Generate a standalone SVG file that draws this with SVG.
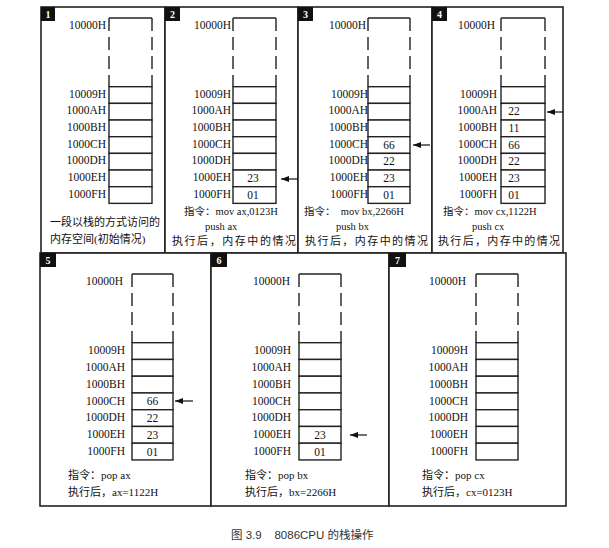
<svg xmlns="http://www.w3.org/2000/svg" width="609" height="548" viewBox="0 0 609 548">
<defs>
<style>
.frame{fill:#fff;stroke:#222;stroke-width:1.6}
.tag{fill:#111}
.tagt{fill:#fff;font-family:"Liberation Serif",serif;font-size:10px;font-weight:bold;text-anchor:middle}
.cell{fill:#fff;stroke:#222;stroke-width:1.4}
.top{stroke:#222;stroke-width:1.4;fill:none}
.dash{stroke:#222;stroke-width:1.4;fill:none;stroke-dasharray:13 6}
.lbl{font-family:"Liberation Serif",serif;font-size:11.5px;fill:#111;text-anchor:end}
.val{font-family:"Liberation Serif",serif;font-size:11.5px;fill:#111;text-anchor:middle}
.txt{font-family:"Liberation Serif","Noto Sans CJK SC",serif;font-size:11px;fill:#111}
.ins{font-family:"Liberation Serif","Noto Sans CJK SC",serif;font-size:10.5px;fill:#111}
.cap{font-family:"Liberation Sans","Noto Sans CJK SC",sans-serif;font-size:11.5px;fill:#333}
.arr{stroke:#111;stroke-width:1.2;fill:none;marker-end:url(#ah)}
</style>
<marker id="ah" markerUnits="userSpaceOnUse" markerWidth="8" markerHeight="6" refX="8" refY="3" orient="auto">
<path d="M0,0 L8,3 L0,6 z" fill="#111"/>
</marker>
</defs>

<g id="panel1">
<rect class="frame" x="41" y="7" width="124" height="246"/>
<rect class="tag" x="41" y="7" width="14" height="14"/><text class="tagt" x="48" y="18">1</text>
<line class="top" x1="109" y1="18" x2="152" y2="18"/>
<line class="dash" x1="109" y1="18" x2="109" y2="87"/>
<line class="dash" x1="152" y1="18" x2="152" y2="87"/>
<rect class="cell" x="109" y="86.7" width="43" height="16.67"/>
<rect class="cell" x="109" y="103.37" width="43" height="16.67"/>
<rect class="cell" x="109" y="120.03" width="43" height="16.67"/>
<rect class="cell" x="109" y="136.7" width="43" height="16.67"/>
<rect class="cell" x="109" y="153.37" width="43" height="16.67"/>
<rect class="cell" x="109" y="170.03" width="43" height="16.67"/>
<rect class="cell" x="109" y="186.7" width="43" height="16.67"/>
<text class="lbl" x="106" y="29">10000H</text>
<text class="lbl" x="106" y="97.7">10009H</text>
<text class="lbl" x="106" y="114.4">1000AH</text>
<text class="lbl" x="106" y="131">1000BH</text>
<text class="lbl" x="106" y="147.7">1000CH</text>
<text class="lbl" x="106" y="164.4">1000DH</text>
<text class="lbl" x="106" y="181">1000EH</text>
<text class="lbl" x="106" y="197.7">1000FH</text>
<text class="txt" x="50" y="226">一段以栈的方式访问的</text>
<text class="txt" x="50" y="243">内存空间(初始情况)</text>
</g>

<g id="panel2">
<rect class="frame" x="165" y="7" width="133" height="246"/>
<rect class="tag" x="165" y="7" width="15" height="14"/><text class="tagt" x="172.5" y="18">2</text>
<line class="top" x1="233" y1="18" x2="276" y2="18"/>
<line class="dash" x1="233" y1="18" x2="233" y2="87"/>
<line class="dash" x1="276" y1="18" x2="276" y2="87"/>
<rect class="cell" x="233" y="86.7" width="43" height="16.67"/>
<rect class="cell" x="233" y="103.37" width="43" height="16.67"/>
<rect class="cell" x="233" y="120.03" width="43" height="16.67"/>
<rect class="cell" x="233" y="136.7" width="43" height="16.67"/>
<rect class="cell" x="233" y="153.37" width="43" height="16.67"/>
<rect class="cell" x="233" y="170.03" width="43" height="16.67"/>
<rect class="cell" x="233" y="186.7" width="43" height="16.67"/>
<text class="lbl" x="231" y="29">10000H</text>
<text class="lbl" x="231" y="97.7">10009H</text>
<text class="lbl" x="231" y="114.4">1000AH</text>
<text class="lbl" x="231" y="131">1000BH</text>
<text class="lbl" x="231" y="147.7">1000CH</text>
<text class="lbl" x="231" y="164.4">1000DH</text>
<text class="lbl" x="231" y="181">1000EH</text>
<text class="lbl" x="231" y="197.7">1000FH</text>
<text class="val" x="253" y="182">23</text>
<text class="val" x="253" y="198.7">01</text>
<text class="ins" x="184" y="215">指令：mov ax,0123H</text>
<text class="ins" x="205" y="230">push ax</text>
<text class="txt" x="172" y="245" textLength="124" lengthAdjust="spacing">执行后，内存中的情况</text>
</g>

<g id="panel3">
<rect class="frame" x="298" y="7" width="134" height="246"/>
<rect class="tag" x="298" y="7" width="15" height="14"/><text class="tagt" x="305.5" y="18">3</text>
<line class="top" x1="368" y1="18" x2="410" y2="18"/>
<line class="dash" x1="368" y1="18" x2="368" y2="87"/>
<line class="dash" x1="410" y1="18" x2="410" y2="87"/>
<rect class="cell" x="368" y="86.7" width="42" height="16.67"/>
<rect class="cell" x="368" y="103.37" width="42" height="16.67"/>
<rect class="cell" x="368" y="120.03" width="42" height="16.67"/>
<rect class="cell" x="368" y="136.7" width="42" height="16.67"/>
<rect class="cell" x="368" y="153.37" width="42" height="16.67"/>
<rect class="cell" x="368" y="170.03" width="42" height="16.67"/>
<rect class="cell" x="368" y="186.7" width="42" height="16.67"/>
<text class="lbl" x="366" y="29">10000H</text>
<text class="lbl" x="368" y="97.7">10009H</text>
<text class="lbl" x="368" y="114.4">1000AH</text>
<text class="lbl" x="368" y="131">1000BH</text>
<text class="lbl" x="368" y="147.7">1000CH</text>
<text class="lbl" x="368" y="164.4">1000DH</text>
<text class="lbl" x="368" y="181">1000EH</text>
<text class="lbl" x="368" y="197.7">1000FH</text>
<text class="val" x="389" y="148.7">66</text>
<text class="val" x="389" y="165.4">22</text>
<text class="val" x="389" y="182">23</text>
<text class="val" x="389" y="198.7">01</text>
<text class="ins" x="304" y="215" xml:space="preserve">指令：  mov bx,2266H</text>
<text class="ins" x="336" y="230">push bx</text>
<text class="txt" x="305" y="245" textLength="123" lengthAdjust="spacing">执行后，内存中的情况</text>
</g>

<g id="panel4">
<rect class="frame" x="432" y="7" width="131" height="246"/>
<rect class="tag" x="432" y="7" width="15" height="14"/><text class="tagt" x="439.5" y="18">4</text>
<line class="top" x1="501" y1="18" x2="545" y2="18"/>
<line class="dash" x1="501" y1="18" x2="501" y2="87"/>
<line class="dash" x1="545" y1="18" x2="545" y2="87"/>
<rect class="cell" x="501" y="86.7" width="44" height="16.67"/>
<rect class="cell" x="501" y="103.37" width="44" height="16.67"/>
<rect class="cell" x="501" y="120.03" width="44" height="16.67"/>
<rect class="cell" x="501" y="136.7" width="44" height="16.67"/>
<rect class="cell" x="501" y="153.37" width="44" height="16.67"/>
<rect class="cell" x="501" y="170.03" width="44" height="16.67"/>
<rect class="cell" x="501" y="186.7" width="44" height="16.67"/>
<text class="lbl" x="495" y="29">10000H</text>
<text class="lbl" x="497" y="97.7">10009H</text>
<text class="lbl" x="497" y="114.4">1000AH</text>
<text class="lbl" x="497" y="131">1000BH</text>
<text class="lbl" x="497" y="147.7">1000CH</text>
<text class="lbl" x="497" y="164.4">1000DH</text>
<text class="lbl" x="497" y="181">1000EH</text>
<text class="lbl" x="497" y="197.7">1000FH</text>
<text class="val" x="514" y="115.4">22</text>
<text class="val" x="514" y="132">11</text>
<text class="val" x="514" y="148.7">66</text>
<text class="val" x="514" y="165.4">22</text>
<text class="val" x="514" y="182">23</text>
<text class="val" x="514" y="198.7">01</text>
<text class="ins" x="443" y="215">指令：mov cx,1122H</text>
<text class="ins" x="472" y="230">push cx</text>
<text class="txt" x="438" y="245" textLength="122" lengthAdjust="spacing">执行后，内存中的情况</text>
</g>

<g id="panel5">
<rect class="frame" x="40" y="253" width="171" height="253"/>
<rect class="tag" x="40" y="253" width="16" height="14"/><text class="tagt" x="48" y="264">5</text>
<line class="top" x1="132" y1="274" x2="173" y2="274"/>
<line class="dash" x1="132" y1="274" x2="132" y2="343"/>
<line class="dash" x1="173" y1="274" x2="173" y2="343"/>
<rect class="cell" x="132" y="342.7" width="41" height="16.75"/>
<rect class="cell" x="132" y="359.45" width="41" height="16.75"/>
<rect class="cell" x="132" y="376.2" width="41" height="16.75"/>
<rect class="cell" x="132" y="392.95" width="41" height="16.75"/>
<rect class="cell" x="132" y="409.7" width="41" height="16.75"/>
<rect class="cell" x="132" y="426.45" width="41" height="16.75"/>
<rect class="cell" x="132" y="443.2" width="41" height="16.75"/>
<text class="lbl" x="123" y="285">10000H</text>
<text class="lbl" x="125" y="354.2">10009H</text>
<text class="lbl" x="125" y="371">1000AH</text>
<text class="lbl" x="125" y="387.7">1000BH</text>
<text class="lbl" x="125" y="404.5">1000CH</text>
<text class="lbl" x="125" y="421.2">1000DH</text>
<text class="lbl" x="125" y="438">1000EH</text>
<text class="lbl" x="125" y="454.7">1000FH</text>
<text class="val" x="152.5" y="405.2">66</text>
<text class="val" x="152.5" y="422">22</text>
<text class="val" x="152.5" y="438.7">23</text>
<text class="val" x="152.5" y="455.5">01</text>
<text class="txt" x="68" y="479">指令：pop ax</text>
<text class="txt" x="68" y="496">执行后，ax=1122H</text>
</g>

<g id="panel6">
<rect class="frame" x="211" y="253" width="178" height="253"/>
<rect class="tag" x="211" y="253" width="16" height="14"/><text class="tagt" x="219" y="264">6</text>
<line class="top" x1="299" y1="274" x2="341" y2="274"/>
<line class="dash" x1="299" y1="274" x2="299" y2="343"/>
<line class="dash" x1="341" y1="274" x2="341" y2="343"/>
<rect class="cell" x="299" y="342.7" width="42" height="16.75"/>
<rect class="cell" x="299" y="359.45" width="42" height="16.75"/>
<rect class="cell" x="299" y="376.2" width="42" height="16.75"/>
<rect class="cell" x="299" y="392.95" width="42" height="16.75"/>
<rect class="cell" x="299" y="409.7" width="42" height="16.75"/>
<rect class="cell" x="299" y="426.45" width="42" height="16.75"/>
<rect class="cell" x="299" y="443.2" width="42" height="16.75"/>
<text class="lbl" x="290" y="285">10000H</text>
<text class="lbl" x="291" y="354.2">10009H</text>
<text class="lbl" x="291" y="371">1000AH</text>
<text class="lbl" x="291" y="387.7">1000BH</text>
<text class="lbl" x="291" y="404.5">1000CH</text>
<text class="lbl" x="291" y="421.2">1000DH</text>
<text class="lbl" x="291" y="438">1000EH</text>
<text class="lbl" x="291" y="454.7">1000FH</text>
<text class="val" x="320" y="438.7">23</text>
<text class="val" x="320" y="455.5">01</text>
<text class="txt" x="245" y="479">指令：pop bx</text>
<text class="txt" x="245" y="496">执行后，bx=2266H</text>
</g>

<g id="panel7">
<rect class="frame" x="389" y="253" width="177" height="253"/>
<rect class="tag" x="389" y="253" width="17" height="14"/><text class="tagt" x="397.5" y="264">7</text>
<line class="top" x1="476" y1="274" x2="518" y2="274"/>
<line class="dash" x1="476" y1="274" x2="476" y2="343"/>
<line class="dash" x1="518" y1="274" x2="518" y2="343"/>
<rect class="cell" x="476" y="342.7" width="42" height="16.75"/>
<rect class="cell" x="476" y="359.45" width="42" height="16.75"/>
<rect class="cell" x="476" y="376.2" width="42" height="16.75"/>
<rect class="cell" x="476" y="392.95" width="42" height="16.75"/>
<rect class="cell" x="476" y="409.7" width="42" height="16.75"/>
<rect class="cell" x="476" y="426.45" width="42" height="16.75"/>
<rect class="cell" x="476" y="443.2" width="42" height="16.75"/>
<text class="lbl" x="466" y="285">10000H</text>
<text class="lbl" x="468" y="354.2">10009H</text>
<text class="lbl" x="468" y="371">1000AH</text>
<text class="lbl" x="468" y="387.7">1000BH</text>
<text class="lbl" x="468" y="404.5">1000CH</text>
<text class="lbl" x="468" y="421.2">1000DH</text>
<text class="lbl" x="468" y="438">1000EH</text>
<text class="lbl" x="468" y="454.7">1000FH</text>
<text class="txt" x="422" y="479">指令：pop cx</text>
<text class="txt" x="422" y="496">执行后，cx=0123H</text>
</g>

<g id="connectors">
<line class="arr" x1="298" y1="179" x2="281" y2="179"/>
<line class="arr" x1="430" y1="145" x2="413" y2="145"/>
<line class="arr" x1="563" y1="112" x2="547" y2="112"/>
<line class="arr" x1="193" y1="401" x2="175" y2="401"/>
<line class="arr" x1="367" y1="435" x2="350" y2="435"/>
</g>

<text class="cap" x="231" y="539" xml:space="preserve">图 3.9    8086CPU 的栈操作</text>
</svg>
